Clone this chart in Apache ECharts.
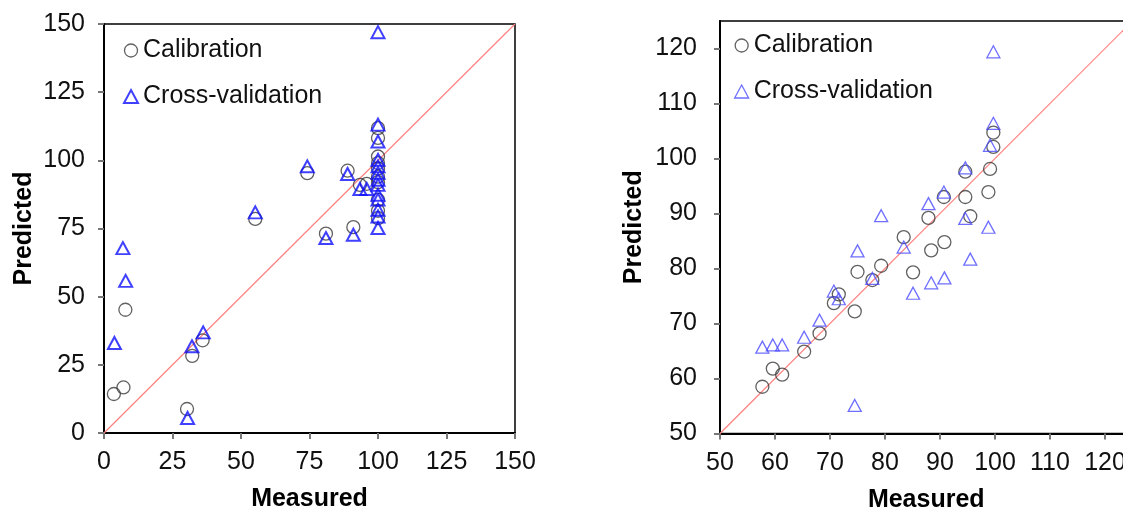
<!DOCTYPE html>
<html>
<head>
<meta charset="utf-8">
<script src="https://cdn.jsdelivr.net/npm/echarts@6/dist/echarts.min.js"></script>
<style>
html,body{margin:0;padding:0;background:#fff;}
#c{width:1123px;height:508px;}
</style>
</head>
<body>
<div id="c"></div>
<script>
// ---- Left panel data ----
const leftCalMeasured  = [3.6, 7.1, 7.8, 30.3, 32.2, 36.0, 55.2, 74.2, 81.0, 88.9, 91.0, 93.4, 95.9,
                          100, 100, 100, 100, 100, 100, 100, 100, 100, 100];
const leftCalPredicted = [14.3, 16.7, 45.2, 8.8, 28.3, 34.0, 78.5, 95.3, 73.1, 96.2, 75.5, 91.0, 91.4,
                          111.8, 108.2, 101.4, 99.0, 97.0, 94.0, 92.0, 85.5, 81.5, 78.8];
const leftCvMeasured   = [3.8, 6.9, 7.9, 30.5, 32.1, 36.2, 55.2, 74.2, 81.0, 88.9, 91.0, 93.4, 95.9,
                          100, 100, 100, 100, 100, 100, 100, 100, 100, 100, 100, 100, 100];
const leftCvPredicted  = [33.0, 67.8, 55.8, 5.5, 31.8, 36.9, 80.9, 97.8, 71.5, 95.0, 72.7, 89.5, 89.5,
                          147.0, 113.1, 106.9, 100.2, 97.8, 95.4, 92.9, 91.0, 87.4, 85.6, 81.9, 79.4, 75.2];
const leftRange = [0, 150];
const leftTicks = 25;

// ---- Right panel data ----
const rightMeasured  = [57.7, 59.6, 61.3, 65.3, 68.1, 70.7, 71.6, 74.5, 75.0, 77.7, 79.3, 83.4,
                        85.1, 87.9, 88.4, 90.8, 90.7, 94.6, 94.6, 95.5, 98.8, 99.1, 99.7, 99.7];
const rightCalPredicted = [58.5, 61.8, 60.7, 64.9, 68.2, 73.7, 75.3, 72.2, 79.4, 77.9, 80.5, 85.7,
                           79.3, 89.2, 83.3, 84.8, 93.0, 97.6, 93.0, 89.5, 93.9, 98.1, 104.7, 102.1];
const rightCvPredicted  = [65.7, 66.1, 66.1, 67.5, 70.6, 75.9, 74.5, 55.1, 83.2, 78.2, 89.6, 83.9,
                           75.5, 91.8, 77.4, 78.3, 93.9, 98.3, 89.1, 81.7, 87.5, 102.4, 106.4, 119.4];
const rightRange = [50, 125];
const rightTicks = 10;

const seriesNames = ['Calibration', 'Cross-validation'];
const xTitle = 'Measured';
const yTitle = 'Predicted';

const zip = (a, b) => a.map((v, i) => [v, b[i]]);

const FONT = 'Liberation Sans, Arial, sans-serif';
const calStyle = {color: 'rgba(0,0,0,0)', borderColor: '#3a3a3a', borderWidth: 1.3};
const cvStyleL = {color: 'rgba(0,0,0,0)', borderColor: '#1010ff', borderWidth: 2};
const cvStyleR = {color: 'rgba(0,0,0,0)', borderColor: '#4a4aff', borderWidth: 1.3};

function xAxis(gi, range, interval) {
  return {
    type: 'value', gridIndex: gi, min: range[0], max: range[1], interval: interval,
    name: xTitle, nameLocation: 'middle', nameGap: 54,
    nameTextStyle: {fontFamily: FONT, fontSize: 25, fontWeight: 'bold', color: '#000'},
    axisLine: {show: true, onZero: false, lineStyle: {color: '#000', width: 2}},
    axisTick: {show: true, length: 6, lineStyle: {color: '#777', width: 2}},
    axisLabel: {fontFamily: FONT, fontSize: 25, color: '#111', margin: 17, showMaxLabel: gi === 0},
    splitLine: {show: false}
  };
}
function yAxis(gi, range, interval, gap, margin) {
  return {
    type: 'value', gridIndex: gi, min: range[0], max: range[1], interval: interval,
    name: yTitle, nameLocation: 'middle', nameGap: gap, nameRotate: 90,
    nameTextStyle: {fontFamily: FONT, fontSize: 25, fontWeight: 'bold', color: '#000'},
    axisLine: {show: true, onZero: false, lineStyle: {color: '#000', width: 2}},
    axisTick: {show: true, length: 6, lineStyle: {color: '#777', width: 2}},
    axisLabel: {fontFamily: FONT, fontSize: 25, color: '#111', margin: margin, showMaxLabel: gi === 0},
    splitLine: {show: false}
  };
}
function legend(left, top, cvStyle) {
  return {
    left: left, top: top, orient: 'vertical', itemGap: 21, padding: 0,
    itemWidth: 14, itemHeight: 13, selectedMode: false,
    textStyle: {fontFamily: FONT, fontSize: 25, color: '#111'},
    data: [
      {name: seriesNames[0], icon: 'circle', itemStyle: calStyle},
      {name: seriesNames[1], icon: 'triangle', itemStyle: cvStyle}
    ]
  };
}

const chart = echarts.init(document.getElementById('c'), null, {renderer: 'canvas'});
chart.setOption({
  animation: false,
  backgroundColor: '#fff',
  grid: [
    {left: 104, top: 24, width: 411, height: 409, show: true, borderColor: '#000', borderWidth: 1.5,
     backgroundColor: 'transparent', outerBoundsMode: 'none', containLabel: false},
    {left: 720, top: 21, width: 412.5, height: 412.5, show: true, borderColor: '#000', borderWidth: 1.5,
     backgroundColor: 'transparent', outerBoundsMode: 'none', containLabel: false}
  ],
  xAxis: [xAxis(0, leftRange, leftTicks), xAxis(1, rightRange, rightTicks)],
  yAxis: [yAxis(0, leftRange, leftTicks, 67, 19), yAxis(1, rightRange, rightTicks, 73, 23)],
  legend: [legend(123, 38, cvStyleL), legend(734, 33, cvStyleR)],
  series: [
    {type: 'line', xAxisIndex: 0, yAxisIndex: 0, data: [[leftRange[0], leftRange[0]], [leftRange[1], leftRange[1]]],
     symbol: 'none', lineStyle: {color: '#ff8080', width: 1.2}, silent: true, z: 1},
    {type: 'line', xAxisIndex: 1, yAxisIndex: 1, data: [[rightRange[0], rightRange[0]], [rightRange[1], rightRange[1]]],
     symbol: 'none', lineStyle: {color: '#ff8080', width: 1.2}, silent: true, z: 1},
    {name: seriesNames[0], type: 'scatter', xAxisIndex: 0, yAxisIndex: 0, symbol: 'circle', symbolSize: 13,
     itemStyle: calStyle, data: zip(leftCalMeasured, leftCalPredicted), z: 2},
    {name: seriesNames[1], type: 'scatter', xAxisIndex: 0, yAxisIndex: 0, symbol: 'triangle', symbolSize: [13, 12],
     itemStyle: cvStyleL, data: zip(leftCvMeasured, leftCvPredicted), z: 3},
    {name: seriesNames[0], type: 'scatter', xAxisIndex: 1, yAxisIndex: 1, symbol: 'circle', symbolSize: 13,
     itemStyle: calStyle, data: zip(rightMeasured, rightCalPredicted), z: 2},
    {name: seriesNames[1], type: 'scatter', xAxisIndex: 1, yAxisIndex: 1, symbol: 'triangle', symbolSize: [13, 12],
     itemStyle: cvStyleR, data: zip(rightMeasured, rightCvPredicted), z: 3}
  ]
});
</script>
</body>
</html>
